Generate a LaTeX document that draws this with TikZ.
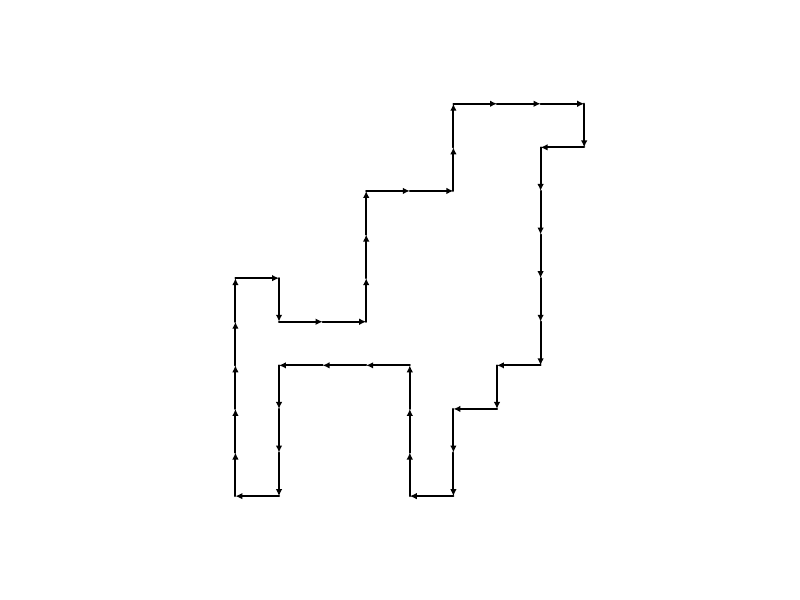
\documentclass[tikz,border=0pt]{standalone}
\usepackage{tikz}
\usetikzlibrary{arrows.meta}

\begin{document}
\begin{tikzpicture}[
    x=1cm, y=1cm,
    edge/.style={-{Latex[length=1.6mm,width=1.5mm]}, line width=1.4pt, line cap=round}
]
    \useasboundingbox (-5.40,-2.38) rectangle (12.95,11.38);

    % lattice points along the boundary, one unit step apart
    \foreach [count=\i] \x/\y in {0/0,0/1,0/2,0/3,0/4,0/5,1/5,1/4,2/4,3/4,3/5,3/6,3/7,4/7,5/7,5/8,5/9,
        6/9,7/9,8/9,8/8,7/8,7/7,7/6,7/5,7/4,7/3,6/3,6/2,5/2,5/1,5/0,4/0,4/1,4/2,4/3,3/3,2/3,1/3,1/2,1/1,1/0,0/0}
        \coordinate (p\i) at (\x,\y);

    % one arrow per unit step
    \foreach \i [evaluate=\i as \j using int(\i+1)] in {1,...,42}
        \draw [edge] (p\i) -- (p\j);
\end{tikzpicture}
\end{document}
